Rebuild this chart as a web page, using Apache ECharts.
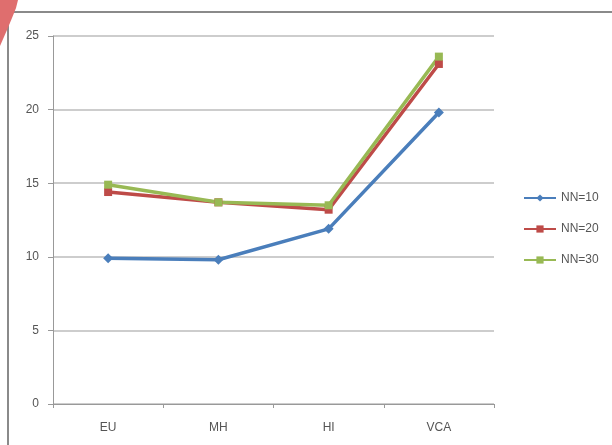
<!DOCTYPE html>
<html><head><meta charset="utf-8">
<script src="https://cdn.jsdelivr.net/npm/echarts@6/dist/echarts.min.js"></script>
<style>html,body{margin:0;padding:0;background:#fff}#c{width:612px;height:445px}</style>
</head><body><div id="c"></div>
<script>
const categories = ['EU', 'MH', 'HI', 'VCA'];
const nn10 = [9.9, 9.8, 11.9, 19.8];
const nn20 = [14.4, 13.7, 13.2, 23.1];
const nn30 = [14.9, 13.7, 13.5, 23.6];
const seriesNames = ['NN=10', 'NN=20', 'NN=30'];
const yTicks = [0, 5, 10, 15, 20, 25];

const chart = echarts.init(document.getElementById('c'), null, {renderer: 'canvas'});
const colors = ['#4a7ebb', '#be4b48', '#98b954'];
const symbols = ['diamond', 'rect', 'rect'];
const data = [nn10, nn20, nn30];
chart.setOption({
  animation: false,
  color: colors,
  textStyle: {fontFamily: 'Liberation Sans Narrow, Liberation Sans, sans-serif'},
  graphic: [
    {type: 'rect', shape: {x: 8, y: 12, width: 620, height: 450}, style: {fill: 'none', stroke: '#8a8a8a', lineWidth: 2}},
    {type: 'polygon', shape: {points: [[0,0],[18,0],[16,8],[12,18],[7,30],[0,46]]}, style: {fill: '#df6e6e'}}
  ],
  grid: {left: 53, right: 118, top: 36, bottom: 41},
  legend: {
    orient: 'vertical', left: 518, top: 187, itemGap: 19,
    itemWidth: 32, itemHeight: 9,
    textStyle: {fontSize: 12, color: '#555'},
    data: seriesNames
  },
  xAxis: {
    type: 'category', data: categories, boundaryGap: true,
    axisLine: {lineStyle: {color: '#999', width: 1}},
    axisTick: {show: true, length: 4, lineStyle: {color: '#999'}},
    axisLabel: {fontSize: 12, color: '#555', margin: 18}
  },
  yAxis: {
    type: 'value', min: 0, max: 25, interval: 5,
    axisLine: {show: true, lineStyle: {color: '#999'}},
    axisTick: {show: true, length: 5, lineStyle: {color: '#999'}},
    axisLabel: {fontSize: 12, color: '#555', margin: 14, formatter: v => yTicks.includes(v) ? String(v) : ''},
    splitLine: {lineStyle: {color: '#bdbdbd', width: 1.5}}
  },
  series: seriesNames.map((n, i) => ({
    name: n, type: 'line', data: data[i],
    symbol: symbols[i], symbolSize: i === 0 ? 10 : 8,
    lineStyle: {width: 3.5, color: colors[i]},
    itemStyle: {color: colors[i]}
  }))
});
</script></body></html>
